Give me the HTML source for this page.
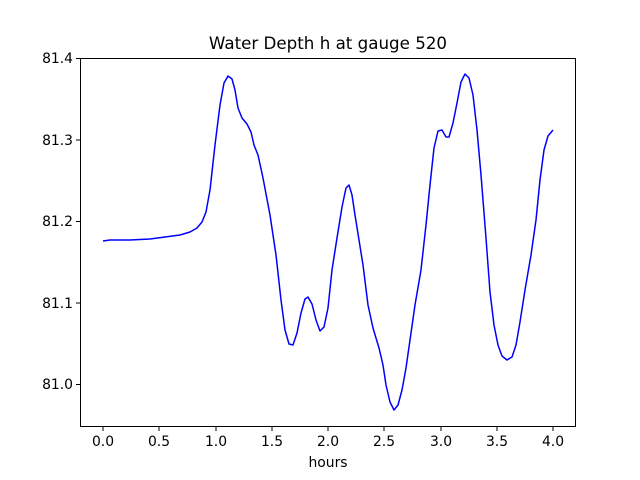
<!DOCTYPE html>
<html><head><style>body{margin:0;background:#fff}svg{display:block}text{font-family:"DejaVu Sans","Liberation Sans",sans-serif;font-size:13.9px;fill:#000}</style></head>
<body>
<svg width="640" height="480" viewBox="0 0 640 480" xmlns="http://www.w3.org/2000/svg">
<rect x="0" y="0" width="640" height="480" fill="#fff"/>
<path d="M103,241 L110,240 L130,240 L150,239 L180,235 L190,232 L197,228 L202,222 L206,212 L210,190 L215,145 L220,105 L224,83 L228,76 L232,79 L235,90 L238,108 L242,118 L247,124 L251,132 L254,145 L258,155 L263,178 L270,215 L276,255 L281,300 L285,330 L289,344 L293,345 L297,333 L301,313 L305,299 L308,297 L312,304 L316,320 L320,331 L324,327 L328,308 L332,270 L337,238 L342,207 L346,188 L349,185 L352,195 L355,215 L359,240 L363,265 L368,305 L373,328 L379,348 L383,365 L386,385 L390,402 L394,410 L398,405 L402,390 L406,368 L410,340 L415,305 L421,270 L426,225 L430,185 L434,148 L438,131 L442,130 L446,137 L449,137 L453,123 L457,103 L461,82 L465,74 L469,78 L473,95 L477,130 L481,175 L486,238 L490,292 L494,325 L498,345 L502,356 L507,360 L512,357 L516,345 L520,322 L525,290 L531,255 L536,220 L540,180 L544,150 L548,136 L553,130" fill="none" stroke="#0000ff" stroke-width="1.5" stroke-linejoin="round"/>
<rect x="80.5" y="58.5" width="495" height="368" fill="none" stroke="#000" stroke-width="1"/>
<g stroke="#000" stroke-width="1">
<line x1="103" y1="427" x2="103" y2="431"/><line x1="159" y1="427" x2="159" y2="431"/><line x1="216" y1="427" x2="216" y2="431"/><line x1="272" y1="427" x2="272" y2="431"/><line x1="328" y1="427" x2="328" y2="431"/><line x1="384" y1="427" x2="384" y2="431"/><line x1="441" y1="427" x2="441" y2="431"/><line x1="497" y1="427" x2="497" y2="431"/><line x1="553" y1="427" x2="553" y2="431"/>
<line x1="76" y1="58.5" x2="80" y2="58.5"/><line x1="76" y1="140" x2="80" y2="140"/><line x1="76" y1="221.5" x2="80" y2="221.5"/><line x1="76" y1="303" x2="80" y2="303"/><line x1="76" y1="384.5" x2="80" y2="384.5"/>
</g>
<g text-anchor="middle">
<text x="103" y="446">0.0</text><text x="159" y="446">0.5</text><text x="216" y="446">1.0</text><text x="272" y="446">1.5</text><text x="328" y="446">2.0</text><text x="384" y="446">2.5</text><text x="441" y="446">3.0</text><text x="497" y="446">3.5</text><text x="553" y="446">4.0</text>
<text x="328" y="467">hours</text>
<text x="328" y="49" style="font-size:16.7px">Water Depth h at gauge 520</text>
</g>
<g text-anchor="end">
<text x="73" y="63">81.4</text><text x="73" y="145">81.3</text><text x="73" y="226">81.2</text><text x="73" y="308">81.1</text><text x="73" y="389">81.0</text>
</g>
</svg>
</body></html>
